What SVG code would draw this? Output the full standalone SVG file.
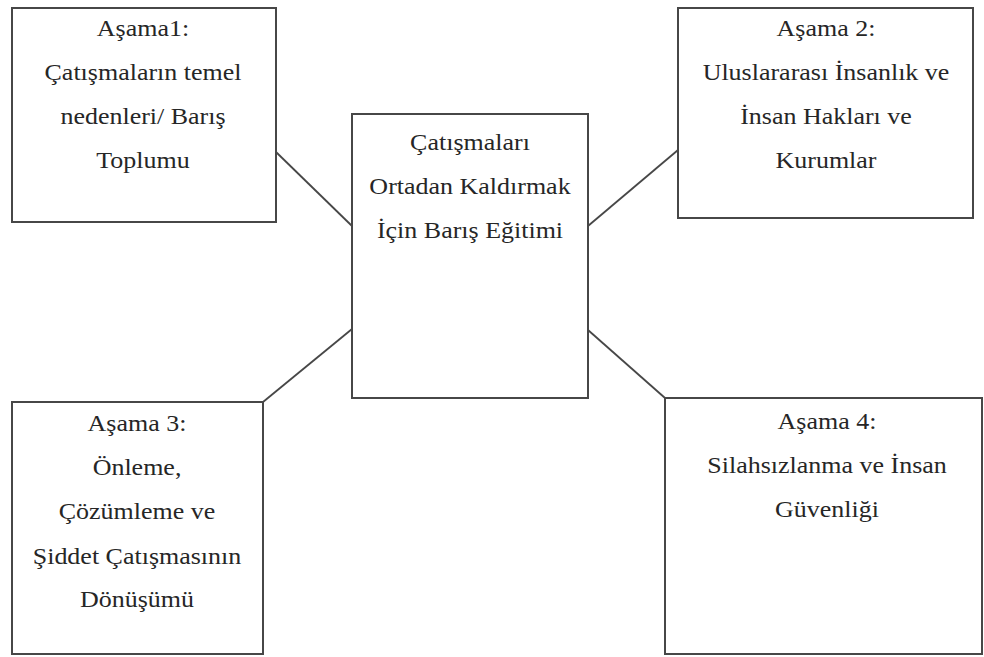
<svg xmlns="http://www.w3.org/2000/svg" width="984" height="657" viewBox="0 0 984 657">
  <style>
    .box { fill: #ffffff; stroke: #474747; stroke-width: 2; }
    .link { stroke: #474747; stroke-width: 1.8; fill: none; }
    .lbl { font-size: 23px; fill: #262626; text-anchor: middle; }
  </style>
  <rect width="984" height="657" fill="#ffffff"/>

  <!-- connectors between the centre box and the four stages -->
  <g id="connectors">
    <line class="link" x1="276" y1="152" x2="352" y2="226"/>
    <line class="link" x1="588" y1="226" x2="678" y2="150"/>
    <line class="link" x1="352" y1="329" x2="263" y2="402"/>
    <line class="link" x1="588" y1="330" x2="665" y2="398"/>
  </g>

  <g font-family="Liberation Serif, DejaVu Serif, serif">
  <!-- centre -->
  <g id="center">
    <rect class="box" x="352" y="114" width="236" height="284"/>
    <g transform="translate(470,0) scale(1.13,1)">
      <text class="lbl" x="0" y="150">Çatışmaları</text>
      <text class="lbl" x="0" y="194">Ortadan Kaldırmak</text>
      <text class="lbl" x="0" y="238">İçin Barış Eğitimi</text>
    </g>
  </g>

  <!-- stage 1 -->
  <g id="stage1">
    <rect class="box" x="12" y="8" width="264" height="214"/>
    <g transform="translate(143,0) scale(1.13,1)">
      <text class="lbl" x="0" y="36">Aşama1:</text>
      <text class="lbl" x="0" y="80">Çatışmaların temel</text>
      <text class="lbl" x="0" y="124">nedenleri/ Barış</text>
      <text class="lbl" x="0" y="168">Toplumu</text>
    </g>
  </g>

  <!-- stage 2 -->
  <g id="stage2">
    <rect class="box" x="678" y="8" width="295" height="210"/>
    <g transform="translate(826,0) scale(1.13,1)">
      <text class="lbl" x="0" y="36">Aşama 2:</text>
      <text class="lbl" x="0" y="80">Uluslararası İnsanlık ve</text>
      <text class="lbl" x="0" y="124">İnsan Hakları ve</text>
      <text class="lbl" x="0" y="168">Kurumlar</text>
    </g>
  </g>

  <!-- stage 3 -->
  <g id="stage3">
    <rect class="box" x="12" y="402" width="251" height="252"/>
    <g transform="translate(137,0) scale(1.13,1)">
      <text class="lbl" x="0" y="431">Aşama 3:</text>
      <text class="lbl" x="0" y="475">Önleme,</text>
      <text class="lbl" x="0" y="519">Çözümleme ve</text>
      <text class="lbl" x="0" y="564">Şiddet Çatışmasının</text>
      <text class="lbl" x="0" y="607">Dönüşümü</text>
    </g>
  </g>

  <!-- stage 4 -->
  <g id="stage4">
    <rect class="box" x="665" y="398" width="317" height="256"/>
    <g transform="translate(827,0) scale(1.13,1)">
      <text class="lbl" x="0" y="429">Aşama 4:</text>
      <text class="lbl" x="0" y="473">Silahsızlanma ve İnsan</text>
      <text class="lbl" x="0" y="517">Güvenliği</text>
    </g>
  </g>
  </g>
</svg>
